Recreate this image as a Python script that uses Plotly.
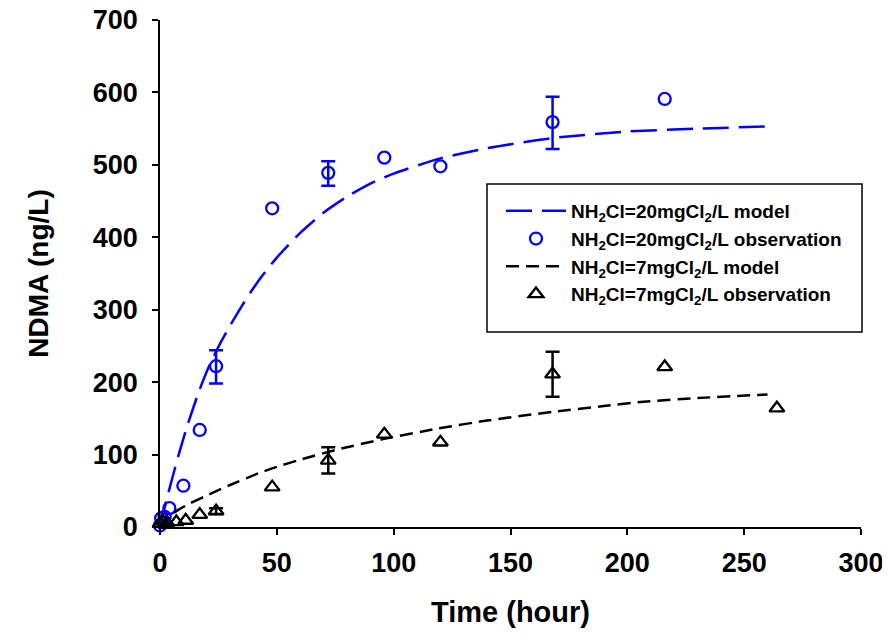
import plotly.graph_objects as go

# ---- data ----
obs20_t = [0, 0.5, 2, 4, 10, 17, 24, 48, 72, 96, 120, 168, 216]
obs20_v = [2, 12, 14, 26, 57, 134, 222, 440, 489, 510, 498, 559, 591]
err20_t = [24, 72, 168]
err20_v = [221, 488, 558]
err20_e = [23, 17, 36]

obs7_t = [0, 1, 3, 7, 11, 17, 24, 48, 72, 96, 120, 168, 216, 264]
obs7_v = [5, 8, 6, 7, 9, 17, 22, 55, 92, 128, 117, 211, 221, 164]
err7_t = [24, 72, 168]
err7_v = [22, 92, 211]
err7_e = [4, 18, 31]

model20_t = [0, 3, 8, 12, 17, 21, 26, 30, 35, 40, 45, 50, 60, 70, 80, 90, 100, 120, 140, 168, 200, 230, 260]
model20_v = [0, 40, 100, 143, 190, 222, 255, 278, 305, 330, 352, 372, 406, 434, 456, 474, 488, 509, 523, 537, 546, 550, 553]
model7_t = [0, 3, 8, 13, 19, 25, 30, 42, 50, 60, 76, 95, 119, 140, 168, 190, 207, 230, 260]
model7_v = [0, 12, 24, 33, 42, 51, 58, 74, 83, 93, 107, 121, 136, 147, 159, 167, 173, 178, 183]

names = [
    "NH<sub>2</sub>Cl=20mgCl<sub>2</sub>/L model",
    "NH<sub>2</sub>Cl=20mgCl<sub>2</sub>/L observation",
    "NH<sub>2</sub>Cl=7mgCl<sub>2</sub>/L model",
    "NH<sub>2</sub>Cl=7mgCl<sub>2</sub>/L observation",
]

BLUE = "#0000FF"
BLACK = "#000000"
FONT = "Liberation Sans, Arial, sans-serif"

fig = go.Figure()

fig.add_trace(go.Scatter(x=model20_t, y=model20_v, mode="lines", name=names[0],
                         line=dict(color=BLUE, width=2.5, dash="26px,10px", shape="spline", smoothing=0.6),
                         legendgroup="a"))
fig.add_trace(go.Scatter(x=obs20_t, y=obs20_v, mode="markers", name=names[1],
                         marker=dict(symbol="circle-open", size=12, color=BLUE, line=dict(width=2.3, color=BLUE)),
                         cliponaxis=False, legendgroup="b"))
fig.add_trace(go.Scatter(x=err20_t, y=err20_v, mode="markers", showlegend=False,
                         marker=dict(size=1, color="rgba(0,0,0,0)"),
                         error_y=dict(type="data", array=err20_e, visible=True, color=BLUE, thickness=2.5, width=7),
                         cliponaxis=False))
fig.add_trace(go.Scatter(x=model7_t, y=model7_v, mode="lines", name=names[2],
                         line=dict(color=BLACK, width=2.5, dash="13px,7px", shape="spline", smoothing=0.6),
                         legendgroup="c"))
fig.add_trace(go.Scatter(x=obs7_t, y=obs7_v, mode="markers", name=names[3],
                         marker=dict(symbol="triangle-up-open", size=13, color=BLACK, line=dict(width=2.3, color=BLACK)),
                         cliponaxis=False, legendgroup="d"))
fig.add_trace(go.Scatter(x=err7_t, y=err7_v, mode="markers", showlegend=False,
                         marker=dict(size=1, color="rgba(0,0,0,0)"),
                         error_y=dict(type="data", array=err7_e, visible=True, color=BLACK, thickness=2.5, width=7),
                         cliponaxis=False))

axis_common = dict(
    showline=True, linecolor=BLACK, linewidth=1.5, mirror=False,
    ticks="outside", ticklen=6, tickwidth=1.5, tickcolor=BLACK,
    showgrid=False, zeroline=False, automargin=False, ticklabeloverflow="allow",
    tickfont=dict(family=FONT, size=27, color=BLACK, weight="bold"),
)

fig.update_layout(
    width=890, height=637,
    margin=dict(l=152, r=37, t=12, b=118, autoexpand=False),
    paper_bgcolor="white", plot_bgcolor="white",
    xaxis=dict(range=[0, 300], tick0=0, dtick=50, ticklabelstandoff=5,
               title=dict(text="Time (hour)", font=dict(family=FONT, size=29, color=BLACK, weight="bold"), standoff=25),
               **axis_common),
    yaxis=dict(range=[0, 700], tick0=0, dtick=100, ticklabelstandoff=9,
               title=dict(text="NDMA (ng/L)", font=dict(family=FONT, size=28, color=BLACK, weight="bold"), standoff=36),
               **axis_common),
    legend=dict(x=(501 - 160) / 701, y=(527 - 192) / 507, xanchor="left", yanchor="top",
                bgcolor="rgba(0,0,0,0)", borderwidth=0, itemwidth=60, tracegroupgap=7.5,
                font=dict(family=FONT, size=19, color=BLACK, weight="bold"), traceorder="normal"),
    shapes=[dict(type="rect", xref="paper", yref="paper",
                 x0=(487 - 160) / 701, x1=(862 - 160) / 701,
                 y0=(527 - 332) / 507, y1=(527 - 184) / 507,
                 line=dict(color=BLACK, width=1.5), fillcolor="white", layer="below")],
    showlegend=True,
)

fig.write_html("out.html")
